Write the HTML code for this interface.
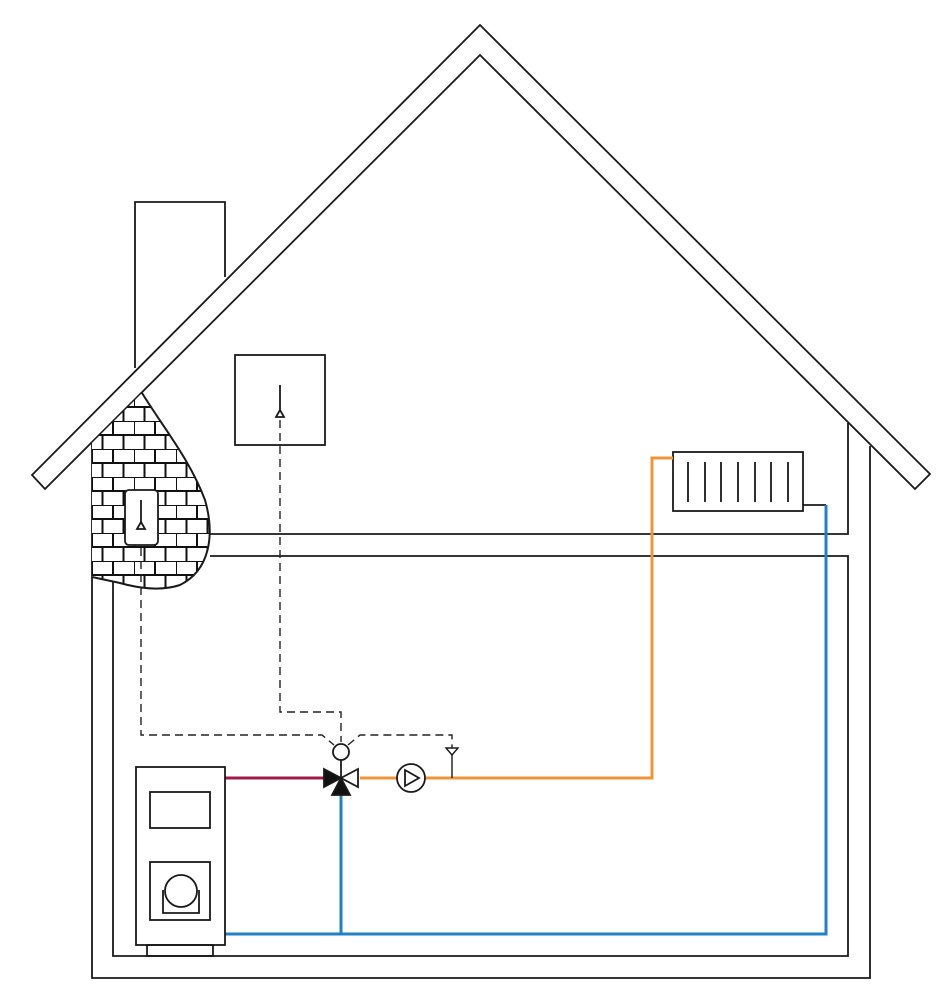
<!DOCTYPE html>
<html><head><meta charset="utf-8"><style>html,body{margin:0;padding:0;background:#fff}svg{display:block}</style></head>
<body>
<svg width="950" height="1000" viewBox="0 0 950 1000" xmlns="http://www.w3.org/2000/svg" fill="none" stroke="#1a1a1a" stroke-width="1.8">
<defs>
<pattern id="br" x="92" y="393" width="42" height="28" patternUnits="userSpaceOnUse">
<rect width="42" height="28" fill="#fff" stroke="none"/>
<path d="M0 0H42M0 14H42M0 0V14M21 0V14M10.5 14V28M31.5 14V28" stroke="#111" stroke-width="2"/>
</pattern>
<clipPath id="bc"><path d="M92 443 L142 393 C165 430 190 460 205 500 C215 535 210 570 180 585 C165 590 145 590 120 583 L92 577 Z"/></clipPath>
</defs>
<path d="M135 368V202H225V277"/>
<path d="M32 475 L480 25 L930 474 L915 489 L480 55 L45 489 Z" fill="#fff"/>
<path d="M92 443V978H870V446"/>
<path d="M848 423V534H210"/>
<path d="M210 556H848V956H113V580"/>
<g clip-path="url(#bc)"><rect x="80" y="380" width="150" height="220" fill="url(#br)" stroke="none"/></g>
<path d="M142 393 C165 430 190 460 205 500 C215 535 210 570 180 585 C165 590 145 590 120 583 L92 577" stroke-width="2"/>
<rect x="125" y="490" width="33" height="55" rx="4" fill="#fff"/>
<path d="M141 500V522"/><path d="M137 529L141 522L145 529Z" fill="#fff"/>
<rect x="235" y="355" width="90" height="90"/>
<path d="M280 385V410"/><path d="M276 417L280 410L284 417Z" fill="#fff"/>
<g stroke-dasharray="8,5" stroke-width="1.4" stroke="#222">
<path d="M141 548V735H322L334 745"/>
<path d="M280 420V712H341V742"/>
<path d="M348 745L360 735H452V745"/>
</g>
<rect x="673" y="452" width="130" height="59"/>
<path d="M688 462V502M705 462V502M721 462V502M738 462V502M755 462V502M771 462V502M788 462V502"/>
<path d="M803 505H826"/>
<path d="M673 458H652V778H360" stroke="#f0943a" stroke-width="3"/>
<path d="M826 505V934H225M341 934V790" stroke="#2080c8" stroke-width="3"/>
<path d="M225 778H324" stroke="#a01a4a" stroke-width="3"/>
<path d="M452 745V778" stroke-width="1.4"/><path d="M446 748H458L452 755Z" stroke-width="1.4" fill="#fff"/>
<circle cx="411" cy="778" r="14" fill="#fff"/>
<path d="M405 770L419 778L405 786Z"/>
<circle cx="341" cy="752" r="8" fill="#fff"/>
<path d="M341 760V778"/>
<path d="M324 769L341 778L324 787Z" fill="#111"/>
<path d="M358 769L341 778L358 787Z" fill="#fff"/>
<path d="M332 795L341 778L350 795Z" fill="#111"/>
<rect x="136" y="767" width="89" height="178" fill="#fff"/>
<rect x="150" y="792" width="60" height="36"/>
<rect x="150" y="862" width="60" height="58"/>
<path d="M163 890V913H199V890"/>
<circle cx="181" cy="891" r="16" fill="#fff"/>
<rect x="147" y="945" width="66" height="11"/>
</svg>
</body></html>
